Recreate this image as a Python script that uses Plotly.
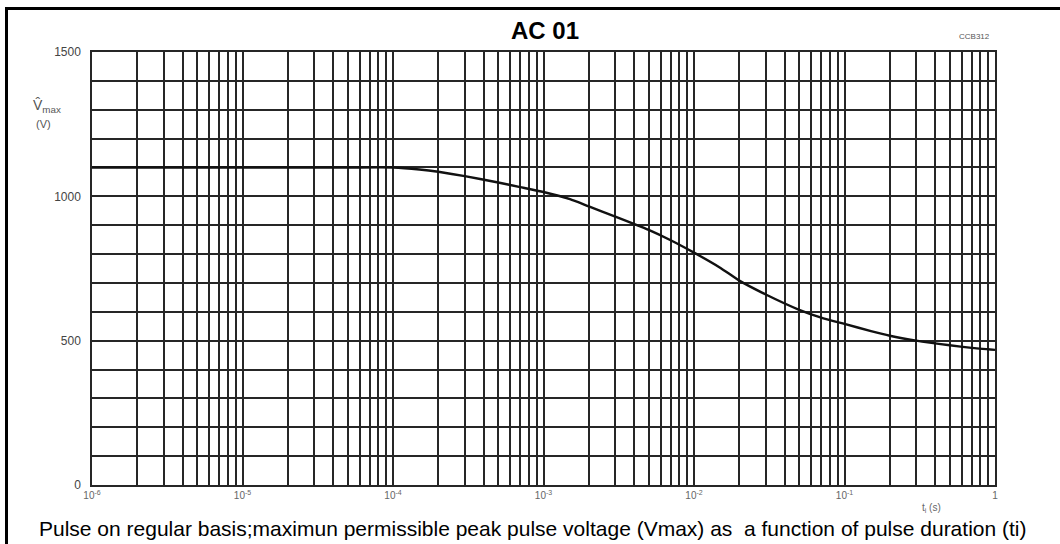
import plotly.graph_objects as go

# Peak pulse voltage versus pulse duration
t_s = [1e-6, 1e-5, 5e-5, 1e-4, 1.5e-4, 2e-4, 3e-4, 5e-4, 7e-4,
       1e-3, 1.5e-3, 2e-3, 3e-3, 5e-3, 7e-3,
       1e-2, 1.5e-2, 2e-2, 3e-2, 5e-2, 7e-2,
       1e-1, 1.5e-1, 2e-1, 3e-1, 5e-1, 7e-1, 1.0]
v_max = [1100, 1100, 1100, 1100, 1093, 1085, 1070, 1048, 1032,
         1015, 990, 965, 930, 884, 848,
         805, 752, 708, 660, 607, 580,
         558, 533, 517, 500, 484, 475, 468]

# Log grid: every 1..9 x decade, labels only on decades
decades = [-6, -5, -4, -3, -2, -1]
x_tickvals = [m * 10.0 ** e for e in decades for m in range(1, 10)] + [1.0]
x_ticktext = [(f"10<sup>{e}</sup>" if m == 1 else "") for e in decades for m in range(1, 10)] + ["1"]

y_tickvals = list(range(0, 1501, 100))
y_labels = {0: "0", 500: "500", 1000: "1000", 1500: "1500"}
y_ticktext = [y_labels.get(v, "") for v in y_tickvals]

W, H = 1060, 544
PL, PR, PT, PB = 92, 995, 52, 485


def px(x):
    return (x - PL) / (PR - PL)


def py(y):
    return (PB - y) / (PB - PT)


FONT = "Liberation Sans, Arial, sans-serif"
GRID = "#262626"


def note(text, x, y, size, color="#555555", xanchor="center"):
    return dict(text=text, x=px(x), y=py(y), xref="paper", yref="paper",
                xanchor=xanchor, yanchor="middle", showarrow=False,
                font=dict(size=size, color=color, family=FONT))


fig = go.Figure()
fig.add_trace(go.Scatter(
    x=t_s, y=v_max, mode="lines",
    line=dict(color="#111111", width=2.4, shape="spline", smoothing=0.5),
    showlegend=False, hoverinfo="skip",
))

fig.update_layout(
    width=W, height=H,
    margin=dict(l=PL, r=W - PR, t=PT, b=H - PB),
    paper_bgcolor="white", plot_bgcolor="white",
    font=dict(family=FONT, color="#555555"),
    xaxis=dict(
        type="log", range=[-6, 0],
        tickmode="array", tickvals=x_tickvals, ticktext=x_ticktext,
        showgrid=True, gridcolor=GRID, gridwidth=1.5,
        showline=True, linecolor=GRID, linewidth=1.5, mirror=True,
        ticks="", tickfont=dict(size=10, color="#666666"),
        zeroline=False,
    ),
    yaxis=dict(
        range=[0, 1500],
        tickmode="array", tickvals=y_tickvals, ticktext=y_ticktext,
        showgrid=True, gridcolor=GRID, gridwidth=1.5,
        showline=True, linecolor=GRID, linewidth=1.5, mirror=True,
        ticks="", ticklabelstandoff=7,
        tickfont=dict(size=12, color="#444444"),
        zeroline=False,
    ),
    shapes=[
        # outer frame: top and left edges
        dict(type="line", xref="paper", yref="paper",
             x0=px(5), x1=px(1060), y0=py(8.5), y1=py(8.5),
             line=dict(color="black", width=3)),
        dict(type="line", xref="paper", yref="paper",
             x0=px(6.5), x1=px(6.5), y0=py(8.5), y1=py(544),
             line=dict(color="black", width=3)),
    ],
    annotations=[
        note("<b>AC 01</b>", 545, 30, 24, color="black"),
        note("CCB312", 974, 36, 8),
        note("V\u0302<sub>max</sub>", 31, 106, 14, xanchor="left"),
        note("(V)", 34, 124, 11, xanchor="left"),
        note("t<sub>i</sub> (s)", 931, 508, 10, color="#666666"),
        note("Pulse on regular basis;maximun permissible peak pulse voltage (Vmax) as  a function of pulse duration (ti)",
             532, 528, 21, color="black"),
    ],
)

fig.write_html("out.html")
